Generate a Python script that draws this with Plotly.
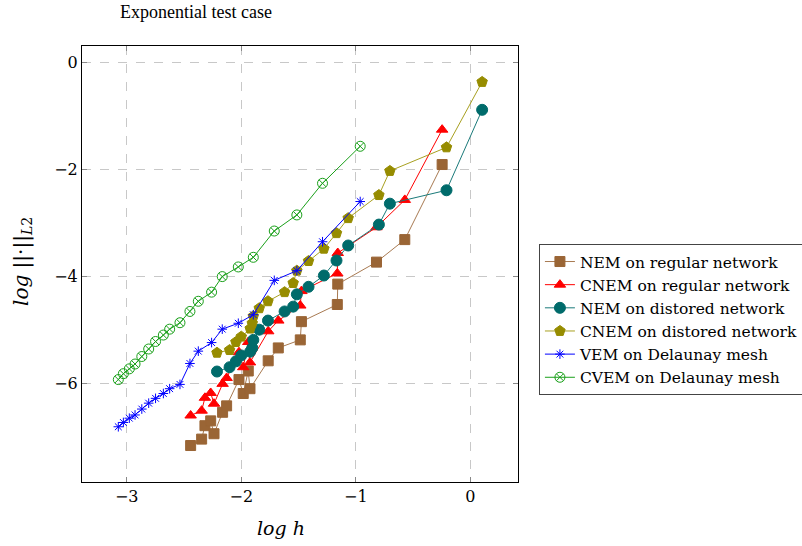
import plotly.graph_objects as go

# ---- data (log h, log error) ----
x_regular = [-2.442, -2.346, -2.317, -2.267, -2.238, -2.163, -2.128, -2.020, -1.983, -1.939,
             -1.924, -1.765, -1.677, -1.485, -1.475, -1.162, -1.158, -0.820, -0.573, -0.247]
nem_regular = [-7.15, -7.03, -6.78, -6.69, -6.93, -6.53, -6.41, -5.92, -6.18, -5.76,
               -6.09, -5.57, -5.33, -5.18, -4.84, -4.52, -4.14, -3.73, -3.31, -1.91]
cnem_regular = [-6.59, -6.50, -6.26, -6.17, -6.37, -6.00, -5.89, -5.41, -5.69, -5.22,
                -5.60, -5.02, -4.82, -4.54, -4.27, -3.94, -3.56, -3.08, -2.57, -1.26]

x_distorted = [-2.212, -2.102, -2.047, -2.000, -1.922, -1.904, -1.895, -1.843, -1.767, -1.622,
               -1.547, -1.515, -1.413, -1.279, -1.169, -1.067, -0.799, -0.703, -0.209, 0.102]
nem_distorted = [-5.77, -5.69, -5.58, -5.47, -5.40, -5.33, -5.18, -4.99, -4.82, -4.65,
                 -4.56, -4.33, -4.19, -3.98, -3.70, -3.42, -3.03, -2.64, -2.39, -0.89]
cnem_distorted = [-5.42, -5.37, -5.22, -5.12, -4.97, -4.87, -4.74, -4.59, -4.46, -4.29,
                  -4.12, -3.89, -3.71, -3.48, -3.19, -2.91, -2.48, -2.03, -1.59, -0.37]

x_delaunay = [-3.073, -3.029, -2.977, -2.927, -2.868, -2.808, -2.748, -2.680, -2.625, -2.535,
              -2.448, -2.375, -2.259, -2.166, -2.026, -1.895, -1.712, -1.515, -1.291, -0.962]
vem_delaunay = [-6.80, -6.72, -6.64, -6.58, -6.47, -6.36, -6.27, -6.18, -6.09, -6.01,
                -5.62, -5.39, -5.23, -4.98, -4.87, -4.71, -4.07, -3.89, -3.35, -2.60]
cvem_delaunay = [-5.92, -5.81, -5.72, -5.63, -5.49, -5.35, -5.21, -5.09, -4.98, -4.86,
                 -4.65, -4.46, -4.29, -4.00, -3.82, -3.64, -3.15, -2.85, -2.26, -1.57]

x_ticks = [-3, -2, -1, 0]
y_ticks = [0, -2, -4, -6]

FONT = "DejaVu Serif, serif"
TITLE_FONT = "Liberation Serif, serif"

series = [
    ("NEM on regular network", x_regular, nem_regular, "#a87a52", "#9a6535", "square", 10),
    ("CNEM on regular network", x_regular, cnem_regular, "#ff0000", "#ff0000", "triangle-up", 10),
    ("NEM on distored network", x_distorted, nem_distorted, "#1a7a7a", "#006b6b", "circle", 11),
    ("CNEM on distored network", x_distorted, cnem_distorted, "#a8a020", "#968c00", "pentagon", 11),
    ("VEM on Delaunay mesh", x_delaunay, vem_delaunay, "#0000ff", "#0000ff", "asterisk-open", 8),
    ("CVEM on Delaunay mesh", x_delaunay, cvem_delaunay, "#1aa01a", "#1aa01a", "circle-x-open", 10),
]

fig = go.Figure()
for name, xs, ys, lc, mc, sym, sz in series:
    fig.add_trace(go.Scatter(
        x=xs, y=ys, name=name, mode="lines+markers",
        line=dict(color=lc, width=1),
        marker=dict(symbol=sym, size=sz, color=mc,
                    line=dict(color=mc, width=1)),
    ))

axis_common = dict(
    showline=True, linecolor="black", linewidth=1, mirror="allticks",
    ticks="inside", ticklen=5, tickcolor="#888888",
    showgrid=True, gridcolor="#c8c8c8", griddash="dash", gridwidth=1,
    zeroline=False, tickfont=dict(family=FONT, size=16, color="black"),
)

fig.update_layout(
    width=802, height=546,
    margin=dict(l=82, r=284, t=46, b=64, autoexpand=False),
    paper_bgcolor="white", plot_bgcolor="white",
    font=dict(family=FONT, size=16, color="black"),
    showlegend=True,
    legend=dict(x=1.048, y=0.546, xanchor="left", yanchor="top",
                bordercolor="#444444", borderwidth=1, bgcolor="white",
                font=dict(family=FONT, size=15.5), tracegroupgap=0, itemwidth=30),
    xaxis=dict(range=[-3.39, 0.415], tickvals=x_ticks, **axis_common),
    yaxis=dict(range=[-7.83, 0.30], tickvals=y_ticks, **axis_common),
    annotations=[
        dict(text="Exponential test case", x=0.2615, y=1.078, xref="paper", yref="paper",
             xanchor="center", yanchor="middle", showarrow=False,
             font=dict(family=TITLE_FONT, size=18)),
        dict(text="<i>log h</i>", x=0.456, y=-0.1055, xref="paper", yref="paper",
             xanchor="center", yanchor="middle", showarrow=False,
             font=dict(family=FONT, size=19)),
        dict(text="<i>log</i> ||·||<sub><i>L</i>2</sub>", x=-0.1376, y=0.5046,
             xref="paper", yref="paper", xanchor="center", yanchor="middle",
             textangle=-90, showarrow=False, font=dict(family=FONT, size=20)),
    ],
)

fig.write_html("out.html", config={"displayModeBar": False},
               post_script="document.body.style.margin='0';document.body.style.overflow='hidden';")
